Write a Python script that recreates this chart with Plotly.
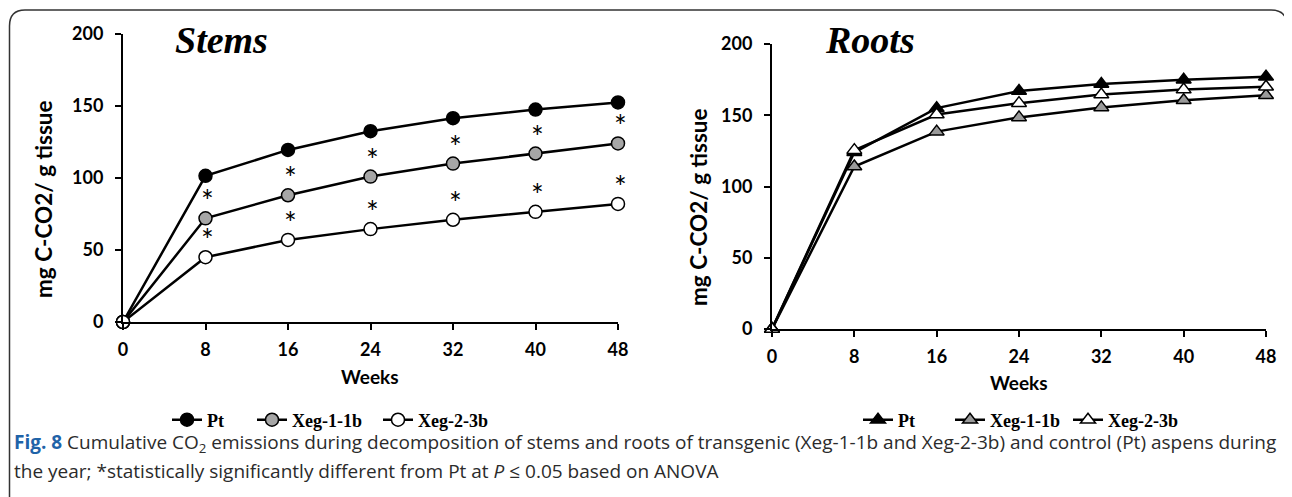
import plotly.graph_objects as go

# The page body has an 8px margin; the figure is sized to fit the window exactly.
OFF = 8
W, H = 1292 - OFF, 497 - OFF

weeks = [0, 8, 16, 24, 32, 40, 48]
week_ticks = [0, 8, 16, 24, 32, 40, 48]
y_ticks = [0, 50, 100, 150, 200]

stems_pt = [0, 101.5, 119.5, 132.5, 141.5, 147.5, 152.5]
stems_xeg11 = [0, 72, 88, 101, 110, 117, 124]
stems_xeg23 = [0, 45, 57, 64.5, 71, 76.5, 82]

roots_pt = [0, 124, 155, 167, 172, 175, 177]
roots_xeg11 = [0, 114, 138.5, 148.5, 155.5, 160.5, 164]
roots_xeg23 = [0, 125.5, 150.5, 158.5, 164.5, 168, 170]

names = ["Pt", "Xeg-1-1b", "Xeg-2-3b"]
fills = ["#000000", "#a6a6a6", "#ffffff"]
roots_fills = ["#000000", "#9a9a9a", "#ffffff"]


def px(x):
    return (x - OFF) / W


def py(y):
    return 1 - (y - OFF) / H


fig = go.Figure()

stems = [stems_pt, stems_xeg11, stems_xeg23]
roots = [roots_pt, roots_xeg11, roots_xeg23]
keys = ["legend", "legend2", "legend3", "legend4", "legend5", "legend6"]

for i, (vals, nm) in enumerate(zip(stems, names)):
    fig.add_trace(go.Scatter(
        x=weeks, y=vals, mode="lines+markers", name=nm, showlegend=True,
        line=dict(color="black", width=2.5),
        marker=dict(symbol="circle", size=13, color=fills[i],
                    line=dict(color="black", width=1.5)),
        cliponaxis=False, xaxis="x", yaxis="y", legend=keys[i],
    ))

for i, (vals, nm) in enumerate(zip(roots, names)):
    fig.add_trace(go.Scatter(
        x=weeks, y=vals, mode="lines+markers", name=nm, showlegend=True,
        line=dict(color="black", width=2.5),
        marker=dict(symbol="triangle-up", size=13, color=roots_fills[i],
                    line=dict(color="black", width=1.5)),
        cliponaxis=False, xaxis="x2", yaxis="y2", legend=keys[i + 3],
    ))

tick_font = dict(family="Lato", size=18, color="black", weight="bold")
axis_common = dict(showline=True, linewidth=2, linecolor="black", ticks="outside",
                   ticklen=6, tickwidth=2, tickcolor="black", showgrid=False,
                   zeroline=False, tickfont=tick_font, fixedrange=True, automargin=False)

fig.update_layout(
    width=W, height=H, margin=dict(l=0, r=0, t=0, b=0, pad=0, autoexpand=False),
    showlegend=True,
    paper_bgcolor="white", plot_bgcolor="white",
    xaxis=dict(domain=[px(123), px(618)], range=[0, 48], tickvals=week_ticks,
               anchor="y", ticklabelstandoff=4, **axis_common),
    yaxis=dict(domain=[py(322), py(34)], range=[0, 200], tickvals=y_ticks,
               anchor="x", ticklabelstandoff=8, **axis_common),
    xaxis2=dict(domain=[px(772), px(1266)], range=[0, 48], tickvals=week_ticks,
                anchor="y2", ticklabelstandoff=4, **axis_common),
    yaxis2=dict(domain=[py(329), py(44)], range=[0, 200], tickvals=y_ticks,
                anchor="x2", ticklabelstandoff=8, **axis_common),
)

# legends
leg_font = dict(family="Liberation Serif", size=18, color="black", weight="bold")
leg_x = [172, 257, 383, 863, 955, 1073]
for k, lx in zip(keys, leg_x):
    fig.update_layout({k: dict(x=px(lx - 5), y=py(420), xanchor="left", yanchor="middle",
                               orientation="h", font=leg_font, bgcolor="rgba(0,0,0,0)",
                               borderwidth=0, itemwidth=30)})

ann = []
# asterisks: placed above the lower series of each compared pair
for i in range(1, len(weeks)):
    for lower in (stems_xeg11, stems_xeg23):
        ann.append(dict(x=weeks[i], y=lower[i], xref="x", yref="y",
                        text="*", showarrow=False, xshift=2, yshift=18,
                        font=dict(family="Lato", size=30, color="black")))

# panel titles
ann.append(dict(x=px(221), y=py(40), xref="paper", yref="paper", text="<b><i>Stems</i></b>",
                showarrow=False, font=dict(family="Liberation Serif", size=38, color="black"),
                xanchor="center", yanchor="middle"))
ann.append(dict(x=px(870), y=py(40), xref="paper", yref="paper", text="<b><i>Roots</i></b>",
                showarrow=False, font=dict(family="Liberation Serif", size=38, color="black"),
                xanchor="center", yanchor="middle"))

# axis titles
title_font = dict(family="Lato", size=22.5, color="black", weight="bold")
for cx, cy in ((43, 199), (699, 207)):
    ann.append(dict(x=px(cx), y=py(cy), xref="paper", yref="paper", text="mg C-CO2/ g tissue",
                    textangle=-90, showarrow=False, font=title_font,
                    xanchor="center", yanchor="middle"))
for cx, cy in ((370, 376), (1019, 382)):
    ann.append(dict(x=px(cx), y=py(cy), xref="paper", yref="paper", text="Weeks",
                    showarrow=False, font=dict(family="Lato", size=19, color="black", weight="bold"),
                    xanchor="center", yanchor="middle"))

# caption
cap_font = dict(family="Open Sans", size=19, color="#2b2b2b")
ann.append(dict(x=px(12), y=py(443), xref="paper", yref="paper", xanchor="left", yanchor="middle",
                showarrow=False, font=cap_font,
                text="<b><span style='color:#1f63a8'>Fig. 8</span></b> Cumulative CO<sub>2</sub> emissions during decomposition of stems and roots of transgenic (Xeg-1-1b and Xeg-2-3b) and control (Pt) aspens during"))
ann.append(dict(x=px(12), y=py(471), xref="paper", yref="paper", xanchor="left", yanchor="middle",
                showarrow=False, font=cap_font,
                text="the year; *statistically significantly different from Pt at <i>P</i> ≤ 0.05 based on ANOVA"))

fig.update_layout(annotations=ann)

# rounded frame
path = (f"M {px(9.5)} {py(497)} L {px(9.5)} {py(26)} Q {px(9.5)} {py(10)} {px(25)} {py(10)} "
        f"L {px(1271)} {py(10)} Q {px(1287)} {py(10)} {px(1287)} {py(26)} L {px(1287)} {py(34)}")
fig.add_shape(type="path", path=path, xref="paper", yref="paper",
              line=dict(color="#333333", width=1.5))

fig.write_html("out.html")
